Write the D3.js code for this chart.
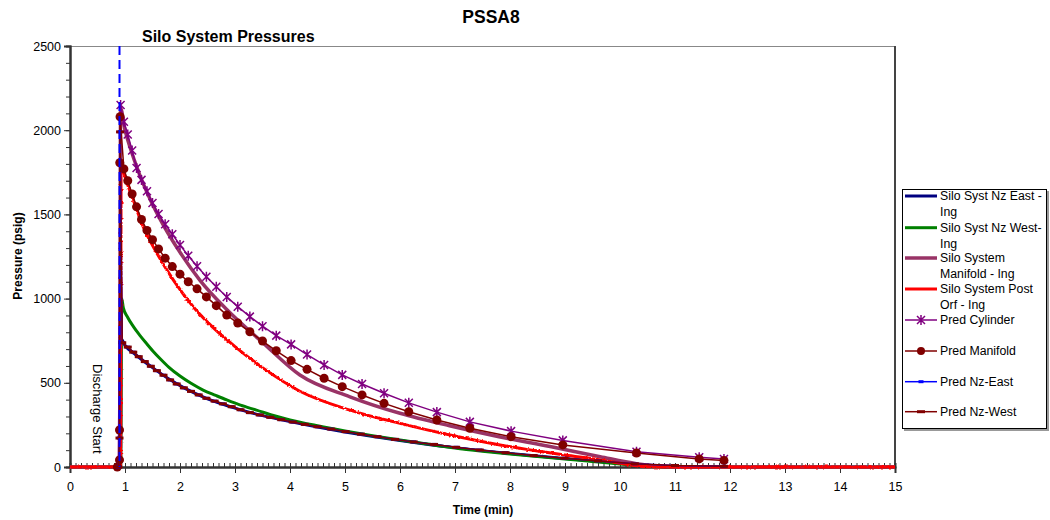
<!DOCTYPE html>
<html>
<head>
<meta charset="utf-8">
<script src="https://cdn.jsdelivr.net/npm/d3@7"></script>
<style>
  html, body { margin: 0; padding: 0; background: #fff; }
  svg { display: block; font-family: "Liberation Sans", Arial, sans-serif; }
</style>
</head>
<body>
<svg id="chart" width="1050" height="520"></svg>
<script>
// ---- measured series (time in minutes, pressure in psig) ----
const nzEastIngTime = [0, 0.92, 0.93, 1.0, 1.2, 1.5, 1.8, 2.1, 2.5, 3.0, 3.5, 4.0, 5.0, 6.0, 7.0, 8.0, 9.0, 10.0, 10.6, 11.0, 15];
const nzEastIngP    = [0, 0, 760, 722, 665, 590, 522, 465, 405, 350, 305, 270, 208, 158, 115, 80, 50, 22, 5, 0, 0];

const nzWestIngTime = [0, 0.92, 0.94, 0.97, 1.05, 1.15, 1.27, 1.39, 1.51, 1.64, 1.8, 2.0, 2.2, 2.42, 2.65, 2.85, 3.1, 3.39, 3.7, 4.0, 4.5, 5.0, 5.5, 6.0, 6.5, 7.0, 7.5, 8.0, 8.5, 9.0, 9.5, 10.0, 10.5, 11.0, 15];
const nzWestIngP    = [0, 0, 1000, 945, 888, 835, 782, 734, 688, 643, 592, 540, 497, 457, 425, 398, 367, 338, 306, 280, 245, 214, 186, 160, 136, 113, 94, 77, 62, 48, 33, 18, 6, 0, 0];

const manifoldIngTime = [0, 0.9, 0.92, 1.0, 1.1, 1.25, 1.45, 1.7, 2.0, 2.36, 2.85, 3.5, 4.18, 5.09, 6.0, 6.9, 7.8, 8.73, 9.64, 10.3, 10.8, 11.2, 15];
const manifoldIngP    = [0, 0, 2130, 2000, 1890, 1750, 1595, 1435, 1275, 1110, 935, 740, 546, 417, 319, 245, 180, 122, 61, 20, 3, 0, 0];

const postOrfIngTime = [0, 0.92, 0.93, 1.0, 1.15, 1.33, 1.58, 1.88, 2.24, 2.5, 3.0, 3.5, 4.18, 5.09, 6.0, 6.91, 7.82, 8.5, 9.0, 9.64, 10.2, 10.5, 11.0, 15];
const postOrfIngP    = [0, 0, 1800, 1724, 1585, 1427, 1269, 1110, 952, 860, 715, 590, 450, 338, 259, 190, 131, 95, 71, 42, 12, 2, 0, 0];

// ---- predictions ----
const predTime = [0.88, 0.92, 0.98, 1.05, 1.13, 1.21, 1.30, 1.40, 1.50, 1.61, 1.73, 1.86, 2.00, 2.15, 2.31, 2.48, 2.66, 2.85, 3.05, 3.27, 3.50, 3.75, 4.02, 4.31, 4.62, 4.95, 5.31, 5.71, 6.16, 6.67, 7.27, 8.02, 8.96, 10.30, 11.44, 11.89];
const predCylinderP = [0, 2150, 2050, 1975, 1880, 1775, 1705, 1638, 1568, 1502, 1442, 1382, 1318, 1255, 1192, 1130, 1070, 1010, 952, 893, 836, 780, 728, 668, 606, 547, 493, 438, 381, 326, 268, 213, 158, 91, 58, 48];

const predManifoldTime = [0.86, 0.9, 0.9, 0.905, 0.91, 0.98, 1.05, 1.13, 1.21, 1.30, 1.40, 1.50, 1.61, 1.73, 1.86, 2.00, 2.15, 2.31, 2.48, 2.66, 2.85, 3.05, 3.27, 3.50, 3.75, 4.02, 4.31, 4.62, 4.95, 5.31, 5.71, 6.16, 6.67, 7.27, 8.02, 8.96, 10.30, 11.44, 11.89];
const predManifoldP    = [0, 42, 220, 1807, 2080, 1770, 1700, 1621, 1545, 1470, 1405, 1350, 1295, 1240, 1190, 1145, 1100, 1058, 1010, 958, 902, 855, 803, 748, 690, 632, 580, 527, 477, 428, 378, 328, 279, 230, 180, 131, 83, 48, 39];

const predNzTime = [0.88, 0.9, 0.91, 0.95, 1.05, 1.15, 1.25, 1.36, 1.47, 1.58, 1.70, 1.82, 1.94, 2.07, 2.20, 2.34, 2.48, 2.63, 2.78, 2.94, 3.10, 3.27, 3.45, 3.64, 3.84, 4.05, 4.27, 4.50, 4.75, 5.01, 5.29, 5.59, 5.91, 6.25, 6.62, 7.02, 7.45, 7.92, 8.43, 8.99, 9.60, 10.27, 11.00, 11.89];
const predNzEastP = [0, 172, 1990, 738, 712, 682, 655, 626, 598, 572, 545, 517, 493, 470, 449, 428, 408, 391, 375, 358, 340, 323, 309, 295, 281, 267, 253, 239, 225, 210, 195, 180, 164, 149, 134, 117, 101, 85, 68, 52, 36, 19, 9, 4];
const predNzWestP = [0, 172, 1990, 738, 712, 682, 655, 626, 598, 572, 545, 517, 493, 470, 449, 428, 408, 391, 375, 358, 340, 323, 309, 295, 281, 267, 253, 239, 225, 210, 195, 180, 164, 149, 134, 117, 101, 85, 68, 52, 36, 19, 9, 4];

const dischargeStart = 0.9;

// ---- axis ticks ----
const xTicks = d3.range(0, 16);
const xMinorTicks = d3.range(0, 150.5).map(i => i / 10);
const yTicks = [0, 500, 1000, 1500, 2000, 2500];
const yMinorTicks = d3.range(0, 26).map(i => i * 100);

const seriesNames = [
  ["Silo Syst Nz East -", "Ing"],
  ["Silo Syst Nz West-", "Ing"],
  ["Silo System", "Manifold - Ing"],
  ["Silo System Post", "Orf - Ing"],
  ["Pred Cylinder"],
  ["Pred Manifold"],
  ["Pred Nz-East"],
  ["Pred Nz-West"]
];

// ---- layout ----
const svg = d3.select("#chart");
const plotLeft = 70, plotRight = 895, plotTop = 46, plotBottom = 467;
const x = d3.scaleLinear().domain([0, 15]).range([plotLeft, plotRight]);
const y = d3.scaleLinear().domain([0, 2500]).range([plotBottom, plotTop]);

const defs = svg.append("defs");
const rough = defs.append("filter").attr("id", "rough")
  .attr("x", "-5%").attr("y", "-5%").attr("width", "110%").attr("height", "110%");
rough.append("feTurbulence").attr("type", "fractalNoise").attr("baseFrequency", "0.45")
  .attr("numOctaves", 1).attr("seed", 3).attr("result", "noise");
rough.append("feDisplacementMap").attr("in", "SourceGraphic").attr("in2", "noise")
  .attr("scale", 3).attr("xChannelSelector", "R").attr("yChannelSelector", "G");

// titles
svg.append("text").attr("x", 491).attr("y", 23).attr("text-anchor", "middle")
  .attr("font-weight", "bold").attr("font-size", 17.5).text("PSSA8");
svg.append("text").attr("x", 142).attr("y", 42)
  .attr("font-weight", "bold").attr("font-size", 16).text("Silo System Pressures");

// frame (top and right edges)
svg.append("line").attr("x1", plotLeft).attr("x2", plotRight).attr("y1", plotTop + 0.5).attr("y2", plotTop + 0.5)
  .attr("stroke", "#888").attr("stroke-width", 1);
svg.append("line").attr("x1", plotRight).attr("x2", plotRight).attr("y1", plotTop).attr("y2", plotBottom)
  .attr("stroke", "#444").attr("stroke-width", 2);

// axes
const xMinor = svg.append("g").attr("transform", `translate(0,${plotBottom})`)
  .call(d3.axisBottom(x).tickValues(xMinorTicks).tickSize(-4).tickFormat(""));
const xAxis = svg.append("g").attr("transform", `translate(0,${plotBottom})`)
  .call(d3.axisBottom(x).tickValues(xTicks).tickSize(6).tickPadding(9).tickFormat(d3.format("d")));
const yMinor = svg.append("g").attr("transform", `translate(${plotLeft},0)`)
  .call(d3.axisLeft(y).tickValues(yMinorTicks).tickSize(4).tickFormat(""));
const yAxis = svg.append("g").attr("transform", `translate(${plotLeft},0)`)
  .call(d3.axisLeft(y).tickValues(yTicks).tickSize(6).tickPadding(3).tickFormat(d3.format("d")));
[xMinor, xAxis, yMinor, yAxis].forEach(g => {
  g.select(".domain").attr("stroke", "#333").attr("stroke-width", 2);
  g.selectAll(".tick line").attr("stroke", "#333");
  g.selectAll(".tick text").attr("font-size", 12.5).attr("fill", "#000")
    .attr("font-family", "Liberation Sans, Arial, sans-serif");
});

svg.append("text").attr("x", 483).attr("y", 514).attr("text-anchor", "middle")
  .attr("font-weight", "bold").attr("font-size", 12).text("Time (min)");
svg.append("text").attr("transform", "translate(22,256) rotate(-90)").attr("text-anchor", "middle")
  .attr("font-weight", "bold").attr("font-size", 12).text("Pressure (psig)");

// event label
svg.append("text").attr("transform", "translate(93,364) rotate(90)")
  .attr("font-size", 13).text("Discharge Start");

// ---- series ----
const line = d3.line().x(d => x(d[0])).y(d => y(d[1]));
const smooth = d3.line().x(d => x(d[0])).y(d => y(d[1])).curve(d3.curveMonotoneX);
const zip = (t, v) => t.map((ti, i) => [ti, v[i]]);

const plot = svg.append("g");

function drawLine(data, color, width, gen, filter) {
  const p = plot.append("path").datum(data).attr("d", gen || line)
    .attr("fill", "none").attr("stroke", color).attr("stroke-width", width)
    .attr("stroke-linejoin", "round");
  if (filter) p.attr("filter", filter);
  return p;
}

const nzEast = zip(nzEastIngTime, nzEastIngP);
const nzWest = zip(nzWestIngTime, nzWestIngP);
const manIng = zip(manifoldIngTime, manifoldIngP);
const postOrf = zip(postOrfIngTime, postOrfIngP);
const cyl = zip(predTime, predCylinderP);
const man = zip(predManifoldTime, predManifoldP);
const pEast = zip(predNzTime, predNzEastP);
const pWest = zip(predNzTime, predNzWestP);

drawLine(nzEast, "#000080", 3, smooth);
drawLine(nzWest, "#008000", 3, smooth);
drawLine(manIng, "#993366", 3.5, smooth);
drawLine(postOrf, "#ff0000", 3, smooth, "url(#rough)");

// Pred Cylinder with asterisk markers
const asterisk = "M-4,-4L4,4M-4,4L4,-4M0,-5L0,5";
drawLine(cyl, "#800080", 1.5);
plot.append("g").selectAll("path").data(cyl.slice(1)).join("path")
  .attr("transform", d => `translate(${x(d[0])},${y(d[1])})`)
  .attr("d", asterisk).attr("stroke", "#800080").attr("stroke-width", 1.5).attr("fill", "none");

// Pred Manifold with filled circles
drawLine(man, "#800000", 1.5);
plot.append("g").selectAll("circle").data(man).join("circle")
  .attr("cx", d => x(d[0])).attr("cy", d => y(d[1])).attr("r", 4.5)
  .attr("fill", "#800000");

// Pred Nz-East (blue, small marker)
drawLine(pEast, "#0000ff", 1.5);
plot.append("g").selectAll("rect").data(pEast).join("rect")
  .attr("x", d => x(d[0]) - 2.5).attr("y", d => y(d[1]) - 1.5).attr("width", 5).attr("height", 3)
  .attr("fill", "#0000ff");

// Pred Nz-West (dark red, dash marker)
drawLine(pWest, "#800000", 1.5);
plot.append("g").selectAll("rect").data(pWest).join("rect")
  .attr("x", d => x(d[0]) - 4).attr("y", d => y(d[1]) - 1.5).attr("width", 8).attr("height", 3)
  .attr("fill", "#800000");

// discharge start marker
svg.append("line").attr("x1", x(dischargeStart)).attr("x2", x(dischargeStart))
  .attr("y1", y(2500)).attr("y2", y(0))
  .attr("stroke", "#0000ff").attr("stroke-width", 2).attr("stroke-dasharray", "9,5");

// ---- legend ----
const lg = svg.append("g");
lg.append("rect").attr("x", 904).attr("y", 191).attr("width", 145).attr("height", 240).attr("fill", "#999");
lg.append("rect").attr("x", 902.5).attr("y", 189.5).attr("width", 144).attr("height", 239)
  .attr("fill", "#fff").attr("stroke", "#000").attr("stroke-width", 1);

const legendStyles = [
  { color: "#000080", width: 3, marker: null },
  { color: "#008000", width: 3, marker: null },
  { color: "#993366", width: 3.5, marker: null },
  { color: "#ff0000", width: 3, marker: null },
  { color: "#800080", width: 1.5, marker: "asterisk" },
  { color: "#800000", width: 1.5, marker: "circle" },
  { color: "#0000ff", width: 1.5, marker: "smallrect" },
  { color: "#800000", width: 1.5, marker: "dash" }
];
const legendY = [196, 227.7, 258, 289, 320, 351, 381.7, 411.7];

seriesNames.forEach((lines, i) => {
  const st = legendStyles[i];
  const ly = legendY[i];
  lg.append("line").attr("x1", 905).attr("x2", 937).attr("y1", ly).attr("y2", ly)
    .attr("stroke", st.color).attr("stroke-width", st.width);
  if (st.marker === "asterisk") {
    lg.append("path").attr("transform", `translate(921,${ly})`).attr("d", asterisk)
      .attr("stroke", st.color).attr("stroke-width", 1.5).attr("fill", "none");
  } else if (st.marker === "circle") {
    lg.append("circle").attr("cx", 921).attr("cy", ly).attr("r", 4).attr("fill", st.color);
  } else if (st.marker === "smallrect") {
    lg.append("rect").attr("x", 918.5).attr("y", ly - 1.5).attr("width", 5).attr("height", 3).attr("fill", st.color);
  } else if (st.marker === "dash") {
    lg.append("rect").attr("x", 917).attr("y", ly - 1.5).attr("width", 8).attr("height", 3).attr("fill", st.color);
  }
  lines.forEach((txt, j) => {
    lg.append("text").attr("x", 940).attr("y", ly + 4.3 + j * 15.5)
      .attr("font-size", 12.3).text(txt);
  });
});
</script>
</body>
</html>
